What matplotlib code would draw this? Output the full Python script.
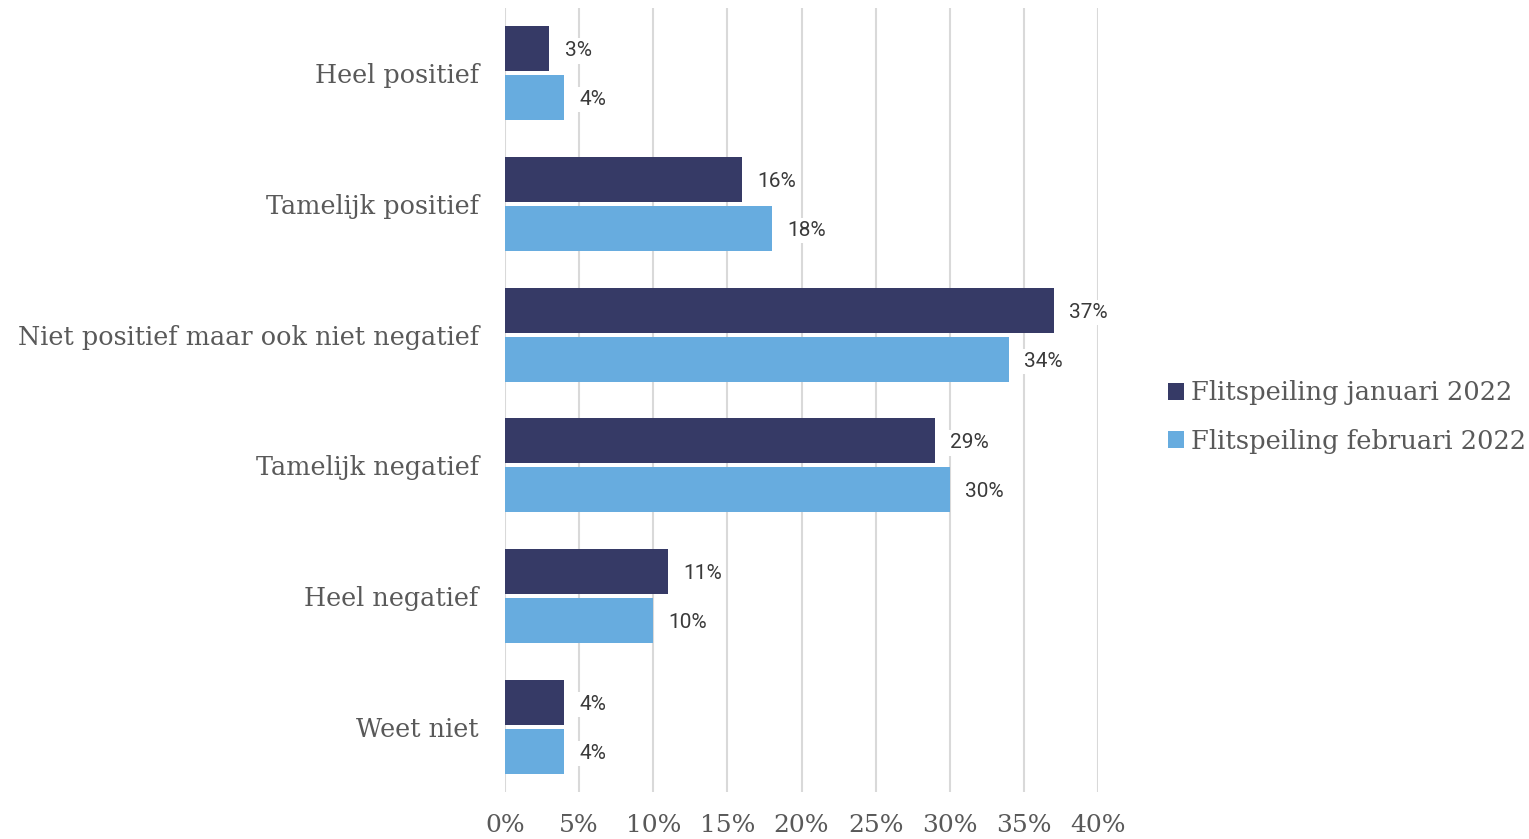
import matplotlib.pyplot as plt
import numpy as np

categories = ["Heel positief", "Tamelijk positief", "Niet positief maar ook niet negatief",
              "Tamelijk negatief", "Heel negatief", "Weet niet"]
jan_2022 = [3, 16, 37, 29, 11, 4]
feb_2022 = [4, 18, 34, 30, 10, 4]
series_names = ["Flitspeiling januari 2022", "Flitspeiling februari 2022"]
xticks = [0, 5, 10, 15, 20, 25, 30, 35, 40]

dark = '#363a66'
light = '#67acdf'
grey_text = '#595959'
serif = 'DejaVu Serif'

fig = plt.figure(figsize=(15.29, 8.39), dpi=100)
ax = fig.add_axes([0.3303, 0.056, 0.3878, 0.9345])

y = np.arange(len(categories))
h = 0.343
off = 0.187
bars_jan = ax.barh(y - off, jan_2022, height=h, color=dark, label=series_names[0], zorder=3)
bars_feb = ax.barh(y + off, feb_2022, height=h, color=light, label=series_names[1], zorder=3)

# data labels with white background over the grid
for bars, vals in [(bars_jan, jan_2022), (bars_feb, feb_2022)]:
    for b, v in zip(bars, vals):
        ax.annotate(f"{v}%", (v, b.get_y() + b.get_height() / 2), xytext=(11, -1.5),
                    textcoords='offset points', ha='left', va='center',
                    fontsize=15, family='Roboto', color='#3a3a3a', zorder=4,
                    bbox=dict(boxstyle='square,pad=0.15', fc='white', ec='none'))

ax.set_xlim(0, 40)
ax.set_ylim(len(categories) - 0.5, -0.5)
ax.set_xticks(xticks)
ax.set_xticklabels([f"{t}%" for t in xticks], family=serif, fontsize=18, color=grey_text)
ax.set_yticks(y)
ax.set_yticklabels(categories, family=serif, fontsize=18.4, color=grey_text)
ax.tick_params(axis='both', length=0)
ax.tick_params(axis='x', pad=16)
ax.tick_params(axis='y', pad=19)
ax.grid(axis='x', color='#d9d9d9', linewidth=1.5, zorder=0)
for s in ax.spines.values():
    s.set_visible(False)

fig.legend(loc='center left', bbox_to_anchor=(1145 / 1529, 1 - 417 / 839), frameon=False,
           prop={'family': serif, 'size': 18.5}, handlelength=0.6, handleheight=0.6,
           handletextpad=0.3, labelcolor=grey_text, labelspacing=0.9)

fig.savefig('out.png', dpi=100)
